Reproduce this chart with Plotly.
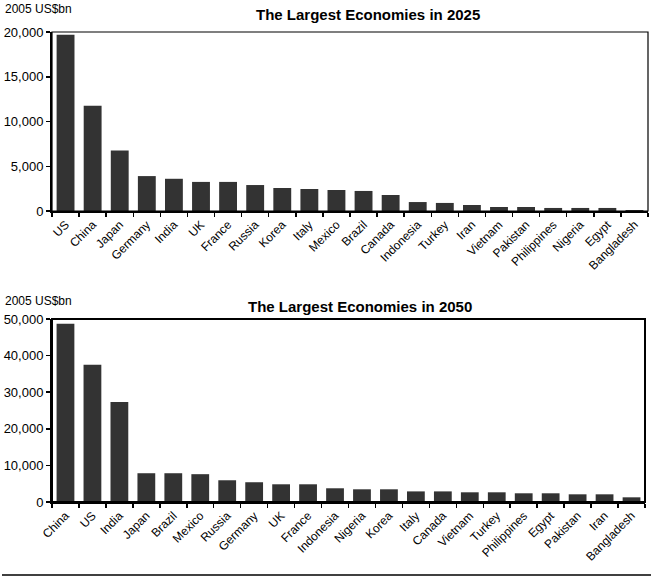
import plotly.graph_objects as go

countries_2025 = ["US", "China", "Japan", "Germany", "India", "UK", "France", "Russia", "Korea",
                  "Italy", "Mexico", "Brazil", "Canada", "Indonesia", "Turkey", "Iran", "Vietnam",
                  "Pakistan", "Philippines", "Nigeria", "Egypt", "Bangladesh"]
gdp_2025 = [19700, 11750, 6750, 3900, 3600, 3250, 3250, 2900, 2570, 2460, 2350, 2240, 1790,
            1000, 900, 670, 450, 450, 340, 340, 340, 110]

countries_2050 = ["China", "US", "India", "Japan", "Brazil", "Mexico", "Russia", "Germany", "UK",
                  "France", "Indonesia", "Nigeria", "Korea", "Italy", "Canada", "Vietnam", "Turkey",
                  "Philippines", "Egypt", "Pakistan", "Iran", "Bangladesh"]
gdp_2050 = [48700, 37500, 27300, 7860, 7860, 7600, 5940, 5400, 4840, 4840, 3750, 3470, 3470,
            2900, 2900, 2650, 2650, 2380, 2380, 2100, 2100, 1280]

title_2025 = "The Largest Economies in 2025"
title_2050 = "The Largest Economies in 2050"
unit_label = "2005 US$bn"

W, H = 651, 576
FONT = "Arial, Liberation Sans, sans-serif"
BAR = "#333333"

def px_x(x):
    return x / W

def px_y(y):
    return 1 - y / H

fig = go.Figure()
fig.add_trace(go.Bar(x=countries_2025, y=gdp_2025, marker=dict(color=BAR, line=dict(width=0)),
                     xaxis="x", yaxis="y", showlegend=False))
fig.add_trace(go.Bar(x=countries_2050, y=gdp_2050, marker=dict(color=BAR, line=dict(width=0)),
                     xaxis="x2", yaxis="y2", showlegend=False))

xcommon = dict(type="category", showline=True, linecolor="black", linewidth=2, ticks="outside",
               tickson="boundaries", ticklen=4, tickwidth=1.5, tickcolor="black", tickangle=-45,
               tickfont=dict(family=FONT, size=12, color="black"), showgrid=False, zeroline=False,
               fixedrange=True, automargin=False)
ycommon = dict(showline=True, linecolor="black", linewidth=2, ticks="outside", ticklen=4,
               tickwidth=1.5, tickcolor="black", tickformat=",d",
               tickfont=dict(family=FONT, size=13, color="black"), showgrid=False, zeroline=False,
               fixedrange=True, automargin=False)

fig.update_layout(
    width=W, height=H,
    margin=dict(l=0, r=0, t=0, b=0),
    paper_bgcolor="white", plot_bgcolor="white",
    bargap=0.34,
    hovermode=False,
    xaxis=dict(xcommon, domain=[px_x(52), px_x(648)], anchor="y"),
    yaxis=dict(ycommon, domain=[px_y(211), px_y(32)], anchor="x", range=[0, 20000], dtick=5000),
    xaxis2=dict(xcommon, domain=[px_x(52), px_x(645)], anchor="y2"),
    yaxis2=dict(ycommon, domain=[px_y(502), px_y(319)], anchor="x2", range=[0, 50000], dtick=10000),
    shapes=[
        dict(type="rect", xref="x domain", yref="y domain", x0=0, x1=1, y0=0, y1=1,
             line=dict(color="black", width=1.2)),
        dict(type="rect", xref="x2 domain", yref="y2 domain", x0=0, x1=1, y0=0, y1=1,
             line=dict(color="black", width=2)),
        dict(type="line", xref="paper", yref="paper", x0=px_x(2), x1=1, y0=px_y(575), y1=px_y(575),
             line=dict(color="black", width=1.5)),
    ],
    annotations=[
        dict(text="<b>" + title_2025 + "</b>", x=px_x(368), y=px_y(14), xref="paper", yref="paper",
             showarrow=False, xanchor="center", yanchor="middle",
             font=dict(family=FONT, size=15, color="black")),
        dict(text="<b>" + title_2050 + "</b>", x=px_x(360), y=px_y(306), xref="paper", yref="paper",
             showarrow=False, xanchor="center", yanchor="middle",
             font=dict(family=FONT, size=15, color="black")),
        dict(text=unit_label, x=px_x(3), y=px_y(9), xref="paper", yref="paper",
             showarrow=False, xanchor="left", yanchor="middle",
             font=dict(family=FONT, size=12, color="black")),
        dict(text=unit_label, x=px_x(3), y=px_y(301), xref="paper", yref="paper",
             showarrow=False, xanchor="left", yanchor="middle",
             font=dict(family=FONT, size=12, color="black")),
    ],
)

fig.write_html("out.html", config={"displayModeBar": False, "staticPlot": True},
               post_script="document.body.style.margin='0px';document.body.style.overflow='hidden';")
